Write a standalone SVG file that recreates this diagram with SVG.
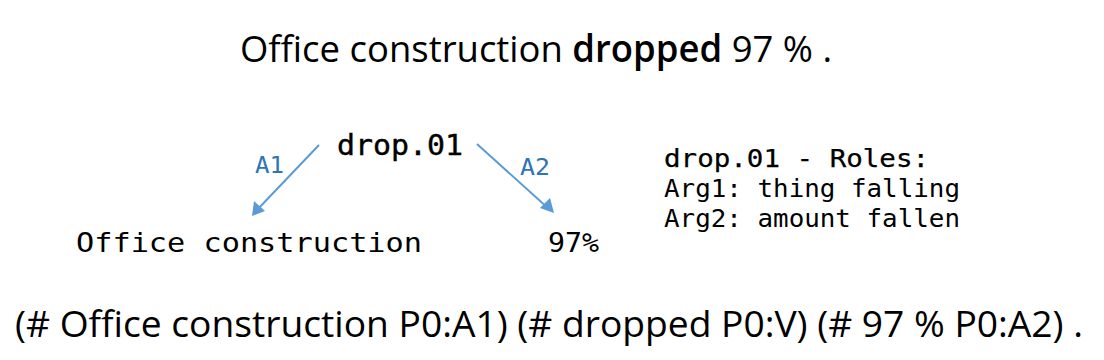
<svg xmlns="http://www.w3.org/2000/svg" width="1104" height="360" viewBox="0 0 1104 360">
<style>
.sans{font-family:"Open Sans","Noto Sans",sans-serif;fill:#000}
.mono{font-family:"DejaVu Sans Mono","Liberation Mono",monospace;fill:#000}
.lbl{font-family:"DejaVu Sans Mono","Liberation Mono",monospace;fill:#2e75b6;font-size:23px}
.edge{stroke:#5b9bd5;stroke-width:2;fill:none}
.arrow{fill:#5b9bd5}
</style>
<rect width="1104" height="360" fill="#fff"/>
<g id="title"><text class="sans" x="240" y="62" font-size="37" textLength="592" lengthAdjust="spacingAndGlyphs">Office construction <tspan font-weight="600">dropped</tspan> 97 % .</text></g>
<g id="connectors">
<line class="edge" x1="319" y1="145" x2="256" y2="211"/>
<path class="arrow" d="M252,216 L254,201 L265,211 z"/>
<line class="edge" x1="477" y1="144" x2="549" y2="209"/>
<path class="arrow" d="M554,213 L540,208 L550,198 z"/>
<text class="lbl" x="255" y="173" textLength="29" lengthAdjust="spacingAndGlyphs">A1</text>
<text class="lbl" x="520" y="175" textLength="30" lengthAdjust="spacingAndGlyphs">A2</text>
</g>
<g id="node-drop"><text class="mono" x="337" y="155" font-size="28" stroke="#000" stroke-width="0.4" textLength="126" lengthAdjust="spacingAndGlyphs">drop.01</text></g>
<g id="node-office"><text class="mono" x="76" y="252" font-size="27" textLength="346" lengthAdjust="spacingAndGlyphs">Office construction</text></g>
<g id="node-97"><text class="mono" x="548" y="252" font-size="27" textLength="51" lengthAdjust="spacingAndGlyphs">97%</text></g>
<g id="roles">
<text class="mono" x="664" y="167" font-size="24" stroke="#000" stroke-width="0.25" textLength="265" lengthAdjust="spacingAndGlyphs">drop.01 - Roles:</text>
<text class="mono" x="664" y="197" font-size="24" textLength="296" lengthAdjust="spacingAndGlyphs">Arg1: thing falling</text>
<text class="mono" x="664" y="227" font-size="24" textLength="296" lengthAdjust="spacingAndGlyphs">Arg2: amount fallen</text>
</g>
<g id="srl"><text class="sans" x="15" y="337" font-size="36" textLength="1068" lengthAdjust="spacingAndGlyphs">(# Office construction P0:A1) (# dropped P0:V) (# 97 % P0:A2) .</text></g>
</svg>
